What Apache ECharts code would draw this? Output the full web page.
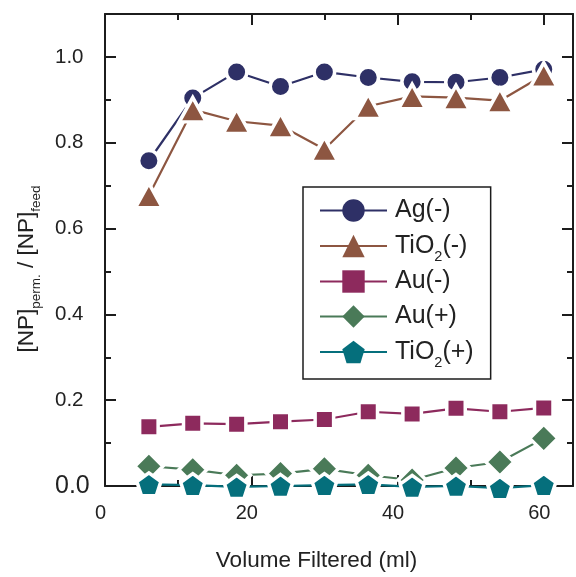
<!DOCTYPE html>
<html><head><meta charset="utf-8">
<script src="https://cdn.jsdelivr.net/npm/echarts@6/dist/echarts.min.js"></script>
<style>html,body{margin:0;padding:0;background:#fff}#c{width:576px;height:577px}</style>
</head><body><div id="c"></div>
<script>
const volume = [6, 12, 18, 24, 30, 36, 42, 48, 54, 60];
const agNeg   = [0.758, 0.904, 0.965, 0.931, 0.965, 0.952, 0.942, 0.941, 0.952, 0.971];
const tio2Neg = [0.677, 0.877, 0.850, 0.840, 0.785, 0.885, 0.908, 0.905, 0.898, 0.958];
const auNeg   = [0.138, 0.146, 0.144, 0.150, 0.155, 0.173, 0.168, 0.181, 0.173, 0.182];
const auPos   = [0.046, 0.038, 0.025, 0.029, 0.040, 0.025, 0.014, 0.042, 0.056, 0.111];
const tio2Pos = [0.004, 0.002, -0.002, 0.000, 0.002, 0.004, -0.002, 0.000, -0.005, 0.002];
const seriesNames = ['Ag(-)', 'TiO2(-)', 'Au(-)', 'Au(+)', 'TiO2(+)'];
const legendLabels = {'Ag(-)': 'Ag(-)', 'TiO2(-)': 'TiO{sub|2}(-)', 'Au(-)': 'Au(-)', 'Au(+)': 'Au(+)', 'TiO2(+)': 'TiO{sub|2}(+)'};
const xTicks = [0, 20, 40, 60];
const yTicks = [0, 0.2, 0.4, 0.6, 0.8, 1.0];

const pentagon = 'path://M0,-1L0.951,-0.309L0.588,0.809L-0.588,0.809L-0.951,-0.309Z';
const colors = ['#2e3066', '#8d5641', '#8d2a5d', '#4a7a58', '#056f7c'];
const symbols = ['circle', 'triangle', 'rect', 'diamond', pentagon];
const sizes = [20.5, [27, 24.5], 18.5, 28, [24, 23]];
const datasets = [agNeg, tio2Neg, auNeg, auPos, tio2Pos];

const AX = '#1c1c1c';
const FONT = '"Liberation Sans", Arial, sans-serif';

function mkAxis(kind, pos, interval, tickLen, showLine, showLabel, extra) {
  const isX = kind === 'x';
  return Object.assign({
    type: 'value', position: pos,
    min: 0, max: isX ? 64 : 1.1, interval: interval,
    axisLine: {show: showLine, onZero: false, lineStyle: {color: AX, width: 2}},
    axisTick: {show: true, inside: true, length: tickLen, lineStyle: {color: AX, width: 2}},
    axisLabel: {show: showLabel},
    splitLine: {show: false}
  }, extra || {});
}

const xAxes = [
  mkAxis('x', 'bottom', 20, 11, true, true, {
    axisLabel: {show: true, fontFamily: FONT, fontSize: 20, color: '#222', margin: 17, padding: [0, 9, 0, 0], showMaxLabel: false,
      formatter: v => xTicks.includes(v) ? String(v) : ''},
    name: 'Volume Filtered (ml)', nameLocation: 'middle', nameGap: 63,
    nameTextStyle: {fontFamily: FONT, fontSize: 22.5, color: '#222', padding: [0, 45, 0, 0]}
  }),
  mkAxis('x', 'bottom', 10, 6, false, false),
  mkAxis('x', 'top', 20, 11, true, false),
  mkAxis('x', 'top', 10, 6, false, false)
];
const yAxes = [
  mkAxis('y', 'left', 0.2, 11, true, true, {
    axisLabel: {show: true, fontFamily: FONT, fontSize: 20.5, color: '#222', margin: 50, align: 'left', showMaxLabel: false,
      formatter: v => {
        const t = yTicks.find(k => Math.abs(k - v) < 1e-6);
        if (t === undefined) return '';
        return t === 0 ? '{big|0.0}' : t.toFixed(1);
      },
      rich: {big: {fontFamily: FONT, fontSize: 25, color: '#222'}}},
    name: '[NP]{sub|perm.} / [NP]{sub|feed}', nameLocation: 'middle', nameRotate: 90, nameGap: 60,
    nameTextStyle: {fontFamily: FONT, fontSize: 22.5, color: '#222', lineHeight: 34, padding: [0, 38, 0, 0],
      rich: {sub: {fontFamily: FONT, fontSize: 13.5, color: '#222', lineHeight: 14, padding: [18, 0, 0, 0]}}}
  }),
  mkAxis('y', 'left', 0.1, 6, false, false),
  mkAxis('y', 'right', 0.2, 11, true, false),
  mkAxis('y', 'right', 0.1, 6, false, false)
];

const series = seriesNames.map((n, i) => ({
  name: n, type: 'line', xAxisIndex: 0, yAxisIndex: 0, clip: false,
  data: volume.map((x, j) => [x, datasets[i][j]]),
  symbol: symbols[i], symbolSize: sizes[i],
  showAllSymbol: true,
  lineStyle: {color: colors[i], width: 2.2},
  itemStyle: {color: colors[i], borderColor: '#fff', borderWidth: 3.5, opacity: 1},
  emphasis: {disabled: true},
  z: 2 + i
}));

const chart = echarts.init(document.getElementById('c'), null, {renderer: 'canvas'});
chart.setOption({
  animation: false,
  backgroundColor: '#fff',
  grid: {left: 105, right: 3, top: 14, bottom: 87, containLabel: false},
  xAxis: xAxes,
  yAxis: yAxes,
  legend: {
    orient: 'vertical', left: 303, top: 187,
    padding: [6, 17, 9, 16],
    borderColor: AX, borderWidth: 1.5, backgroundColor: '#fff',
    itemWidth: 67, itemHeight: 28, itemGap: 0,
    data: seriesNames,
    itemStyle: {borderWidth: 0},
    formatter: n => legendLabels[n],
    textStyle: {fontFamily: FONT, fontSize: 25, color: '#222', lineHeight: 35, padding: [0, 0, 0, 3],
      rich: {sub: {fontFamily: FONT, fontSize: 14.5, color: '#222', lineHeight: 14, padding: [21, 0, 0, 0]}}}
  },
  series: series
});
</script></body></html>
